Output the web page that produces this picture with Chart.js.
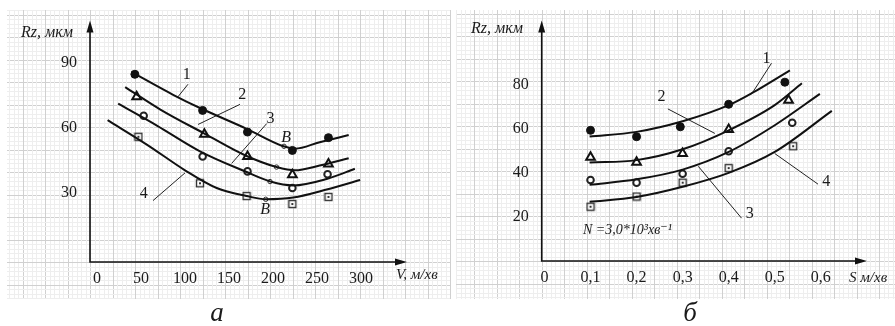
<!DOCTYPE html>
<html>
<head>
<meta charset="utf-8">
<script src="https://cdn.jsdelivr.net/npm/chart.js@4.4.1/dist/chart.umd.min.js"></script>
<style>
  html, body { margin: 0; padding: 0; background: #fff; }
  #wrap { position: relative; width: 895px; height: 326px; overflow: hidden; }
  #chartA { position: absolute; left: 0; top: 0; }
  #chartB { position: absolute; left: 452px; top: 0; }
</style>
</head>
<body>
<div id="wrap">
  <canvas id="chartA" width="452" height="326"></canvas>
  <canvas id="chartB" width="443" height="326"></canvas>
</div>
<script>
// ---- (а) Rz від V ----
const vTicks = [0, 50, 100, 150, 200, 250, 300];
const rzTicksA = [30, 60, 90];

// виміряні точки
const vMarks1 = [43, 120, 171, 222, 263];
const rzMarks1 = [84.8, 68.1, 58.1, 49.6, 55.5];
const vMarks2 = [45, 122, 171, 222, 263];
const rzMarks2 = [74.4, 57.1, 46.8, 38.4, 43.3];
const vMarks3 = [53, 120, 171, 222, 262];
const rzMarks3 = [65.6, 46.8, 39.9, 32.2, 38.6];
const vMarks4 = [47, 117, 170, 222, 263];
const rzMarks4 = [55.9, 34.4, 28.5, 24.8, 28.1];

// апроксимуючі криві
const vCurve1 = [39, 87, 117, 170, 212, 225, 253, 286];
const rzCurve1 = [85.9, 75.2, 69.2, 59.6, 51.5, 50.4, 53.4, 56.7];
const vCurve2 = [32, 72, 122, 170, 204, 225, 253, 286];
const rzCurve2 = [78.9, 68.5, 57.4, 47.0, 41.9, 40.4, 42.6, 46.0];
const vCurve3 = [24, 68, 117, 170, 197, 223, 261, 293];
const rzCurve3 = [71.2, 61.1, 49.2, 39.6, 35.2, 33.4, 36.4, 41.1];
const vCurve4 = [12, 57, 100, 136, 170, 192, 223, 261, 299];
const rzCurve4 = [63.6, 52.2, 40.4, 32.2, 28.5, 27.0, 27.8, 31.5, 35.9];

// точки B (мінімум)
const vB = [212.5, 204, 196.6, 191.7];
const rzB = [51.5, 41.9, 35.2, 27.0];

// виноски
const leaderVA = [[103.4, 92], [162.5, 114.8], [192.8, 153], [63.6, 100]];
const leaderRzA = [[80.2, 74.4], [70.9, 61.6], [62, 43.6], [26.4, 39.2]];
const labelTextA = ['1', '2', '3', '4', 'B', 'B'];
const labelVA = [102, 165, 197, 53, 215, 191];
const labelRzA = [84.8, 75.6, 64.8, 30, 55.6, 22.6];

// ---- (б) Rz від S ----
const sTicks = [0, 0.1, 0.2, 0.3, 0.4, 0.5, 0.6];
const sTickLabels = ['0', '0,1', '0,2', '0,3', '0,4', '0,5', '0,6'];
const rzTicksB = [20, 40, 60, 80];

const sMarks1 = [0.1, 0.2, 0.295, 0.4, 0.522];
const rzMarksB1 = [59.2, 56.3, 60.8, 71.0, 81.0];
const sMarks2 = [0.1, 0.2, 0.3, 0.4, 0.53];
const rzMarksB2 = [47.0, 44.7, 48.7, 59.6, 72.8];
const sMarks3 = [0.1, 0.2, 0.3, 0.4, 0.538];
const rzMarksB3 = [36.7, 35.5, 39.5, 49.7, 62.6];
const sMarks4 = [0.1, 0.2, 0.3, 0.4, 0.54];
const rzMarksB4 = [24.6, 29.2, 35.5, 42.1, 52.0];

const sCurve1 = [0.098, 0.2, 0.3, 0.4, 0.45, 0.533];
const rzCurveB1 = [56.4, 58.5, 63.3, 70.6, 76.0, 86.4];
const sCurve2 = [0.098, 0.2, 0.3, 0.4, 0.5, 0.559];
const rzCurveB2 = [44.6, 45.7, 50.6, 59.2, 70.6, 80.5];
const sCurve3 = [0.098, 0.2, 0.3, 0.4, 0.5, 0.598];
const rzCurveB3 = [34.5, 37.0, 41.4, 49.4, 61.5, 75.7];
const sCurve4 = [0.098, 0.2, 0.3, 0.4, 0.5, 0.624];
const rzCurveB4 = [26.8, 29.0, 33.6, 39.9, 49.4, 68.0];

const leaderSB = [[0.493, 0.45], [0.268, 0.37], [0.428, 0.334], [0.594, 0.5]];
const leaderRzB = [[89.6, 75.7], [68.9, 57.8], [19.4, 42.9], [34.8, 48.7]];
const labelTextB = ['1', '2', '3', '4'];
const labelSB = [0.482, 0.254, 0.446, 0.612];
const labelRzB = [91.8, 74.7, 21.6, 36.3];

const SERIF = '"Liberation Serif", "DejaVu Serif", serif';

function pts(xs, ys) {
    return xs.map((x, i) => ({ x: x, y: ys[i] }));
}

// маркер: квадрат з крапкою
function boxedSquare() {
    const c = document.createElement('canvas');
    c.width = 10; c.height = 10;
    const g = c.getContext('2d');
    g.fillStyle = '#fff';
    g.fillRect(1, 1, 8, 8);
    g.strokeStyle = '#333';
    g.lineWidth = 1.4;
    g.strokeRect(1.5, 1.5, 7, 7);
    g.fillStyle = '#333';
    g.fillRect(4, 4, 2, 2);
    return c;
}
const boxImg = boxedSquare();

function markSets(series) {
    const styles = [
        { pointStyle: 'circle', pointRadius: 4, pointBackgroundColor: '#111', pointBorderColor: '#111', pointBorderWidth: 1 },
        { pointStyle: 'triangle', pointRadius: 5, pointBackgroundColor: '#fff', pointBorderColor: '#111', pointBorderWidth: 2 },
        { pointStyle: 'circle', pointRadius: 3.3, pointBackgroundColor: '#fff', pointBorderColor: '#222', pointBorderWidth: 2 },
        { pointStyle: boxImg, pointRadius: 5 }
    ];
    return series.map((d, i) => Object.assign({ data: d, showLine: false }, styles[i]));
}

function curveSets(series) {
    return series.map(d => ({
        data: d,
        showLine: true,
        borderColor: '#111',
        borderWidth: 2,
        pointRadius: 0,
        cubicInterpolationMode: 'monotone'
    }));
}

function leaderSets(xs, ys) {
    return xs.map((x, i) => ({
        data: pts(x, ys[i]),
        showLine: true,
        borderColor: '#222',
        borderWidth: 1,
        pointRadius: 0
    }));
}

// міліметрівка
const paperPlugin = {
    id: 'paper',
    beforeDraw(chart, args, o) {
        const ctx = chart.ctx;
        const a = chart.chartArea;
        const step = 4.5;
        ctx.save();
        ctx.lineWidth = 1;
        for (let k = -100; k <= 100; k++) {
            const x = a.left + k * step;
            if (x >= o.x0 && x <= o.x1) {
                ctx.strokeStyle = k % 5 === 0 ? '#d0d0d0' : '#eeeeee';
                ctx.beginPath();
                ctx.moveTo(Math.round(x) + 0.5, o.y0);
                ctx.lineTo(Math.round(x) + 0.5, o.y1);
                ctx.stroke();
            }
            const y = a.bottom + k * step;
            if (y >= o.y0 && y <= o.y1) {
                ctx.strokeStyle = k % 5 === 0 ? '#d0d0d0' : '#eeeeee';
                ctx.beginPath();
                ctx.moveTo(o.x0, Math.round(y) + 0.5);
                ctx.lineTo(o.x1, Math.round(y) + 0.5);
                ctx.stroke();
            }
        }
        ctx.restore();
    }
};

// осі зі стрілками та підписи
const axesPlugin = {
    id: 'axes',
    afterDraw(chart, args, o) {
        const ctx = chart.ctx;
        const a = chart.chartArea;
        const xs = chart.scales.x, ys = chart.scales.y;
        ctx.save();
        ctx.strokeStyle = '#111';
        ctx.fillStyle = '#111';
        ctx.lineWidth = 1.6;
        ctx.beginPath();
        ctx.moveTo(a.left, a.top + 4);
        ctx.lineTo(a.left, a.bottom);
        ctx.lineTo(a.right - 4, a.bottom);
        ctx.stroke();
        ctx.beginPath();
        ctx.moveTo(a.left, a.top - 2);
        ctx.lineTo(a.left - 3.5, a.top + 10);
        ctx.lineTo(a.left + 3.5, a.top + 10);
        ctx.closePath();
        ctx.fill();
        ctx.beginPath();
        ctx.moveTo(a.right + 2, a.bottom);
        ctx.lineTo(a.right - 10, a.bottom - 3.5);
        ctx.lineTo(a.right - 10, a.bottom + 3.5);
        ctx.closePath();
        ctx.fill();

        ctx.fillStyle = '#1a1a1a';
        ctx.textBaseline = 'alphabetic';
        (o.labels || []).forEach(l => {
            ctx.font = l.font;
            ctx.textAlign = 'center';
            ctx.fillText(l.text, xs.getPixelForValue(l.x), ys.getPixelForValue(l.y) + 5);
        });
        (o.titles || []).forEach(t => {
            ctx.font = t.font;
            ctx.textAlign = t.align || 'left';
            ctx.fillText(t.text, t.px, t.py);
        });
        ctx.restore();
    }
};

function makeChart(id, cfg) {
    const ctx = document.getElementById(id).getContext('2d');
    return new Chart(ctx, {
        type: 'scatter',
        data: { datasets: cfg.datasets },
        options: {
            responsive: false,
            animation: false,
            layout: { padding: { left: 0, top: 15, right: cfg.padRight, bottom: 0 } },
            plugins: {
                legend: { display: false },
                tooltip: { enabled: false },
                paper: cfg.paper,
                axes: { labels: cfg.labels, titles: cfg.titles }
            },
            scales: {
                x: {
                    type: 'linear',
                    min: cfg.xMin,
                    max: cfg.xMax,
                    grid: { display: false, drawTicks: false },
                    border: { display: false },
                    afterBuildTicks: s => { s.ticks = cfg.xTicks.map(v => ({ value: v })); },
                    afterFit: s => { s.height = cfg.xAxisH; },
                    ticks: {
                        autoSkip: false,
                        maxRotation: 0,
                        padding: 7,
                        color: '#1a1a1a',
                        font: { family: SERIF, size: 16 },
                        callback: (v, i) => cfg.xLabels[i]
                    }
                },
                y: {
                    type: 'linear',
                    min: cfg.yMin,
                    max: cfg.yMax,
                    grid: { display: false, drawTicks: false },
                    border: { display: false },
                    afterBuildTicks: s => { s.ticks = cfg.yTicks.map(v => ({ value: v })); },
                    afterFit: s => { s.width = cfg.yAxisW; },
                    ticks: {
                        padding: 13,
                        color: '#1a1a1a',
                        font: { family: SERIF, size: 16 },
                        callback: v => String(v)
                    }
                }
            }
        },
        plugins: [paperPlugin, axesPlugin]
    });
}

const numFont = '16px ' + SERIF;
const itFont = 'italic 16px ' + SERIF;

makeChart('chartA', {
    datasets: [].concat(
        curveSets([pts(vCurve1, rzCurve1), pts(vCurve2, rzCurve2), pts(vCurve3, rzCurve3), pts(vCurve4, rzCurve4)]),
        leaderSets(leaderVA, leaderRzA),
        [{ data: pts(vB, rzB), showLine: false, pointStyle: 'circle', pointRadius: 2.2,
           pointBackgroundColor: '#fff', pointBorderColor: '#333', pointBorderWidth: 1 }],
        markSets([pts(vMarks1, rzMarks1), pts(vMarks2, rzMarks2), pts(vMarks3, rzMarks3), pts(vMarks4, rzMarks4)])
    ),
    xMin: -8, xMax: 350, yMin: -2, yMax: 108.7,
    xTicks: vTicks, xLabels: vTicks.map(String), yTicks: rzTicksA,
    padRight: 47, xAxisH: 64, yAxisW: 90,
    paper: { x0: 7, x1: 450, y0: 10, y1: 299 },
    labels: labelTextA.map((t, i) => ({ text: t, x: labelVA[i], y: labelRzA[i], font: t === 'B' ? itFont : numFont })),
    titles: [
        { text: 'Rz, мкм', px: 21, py: 37, font: 'italic 16px ' + SERIF },
        { text: 'V, м/хв', px: 396, py: 279, font: 'italic 15px ' + SERIF },
        { text: 'а', px: 217, py: 321, font: 'italic 27px ' + SERIF, align: 'center' }
    ]
});

makeChart('chartB', {
    datasets: [].concat(
        curveSets([pts(sCurve1, rzCurveB1), pts(sCurve2, rzCurveB2), pts(sCurve3, rzCurveB3), pts(sCurve4, rzCurveB4)]),
        leaderSets(leaderSB, leaderRzB),
        markSets([pts(sMarks1, rzMarksB1), pts(sMarks2, rzMarksB2), pts(sMarks3, rzMarksB3), pts(sMarks4, rzMarksB4)])
    ),
    xMin: -0.006, xMax: 0.696, yMin: 0, yMax: 108,
    xTicks: sTicks, xLabels: sTickLabels, yTicks: rzTicksB,
    padRight: 30, xAxisH: 65, yAxisW: 89.7,
    paper: { x0: 4, x1: 443, y0: 10, y1: 299 },
    labels: labelTextB.map((t, i) => ({ text: t, x: labelSB[i], y: labelRzB[i], font: numFont })),
    titles: [
        { text: 'Rz, мкм', px: 19, py: 33, font: 'italic 16px ' + SERIF },
        { text: 'S м/хв', px: 397, py: 282, font: 'italic 15px ' + SERIF },
        { text: 'N =3,0*10³хв⁻¹', px: 131, py: 234, font: 'italic 14px ' + SERIF },
        { text: 'б', px: 238, py: 321, font: 'italic 27px ' + SERIF, align: 'center' }
    ]
});
</script>
</body>
</html>
